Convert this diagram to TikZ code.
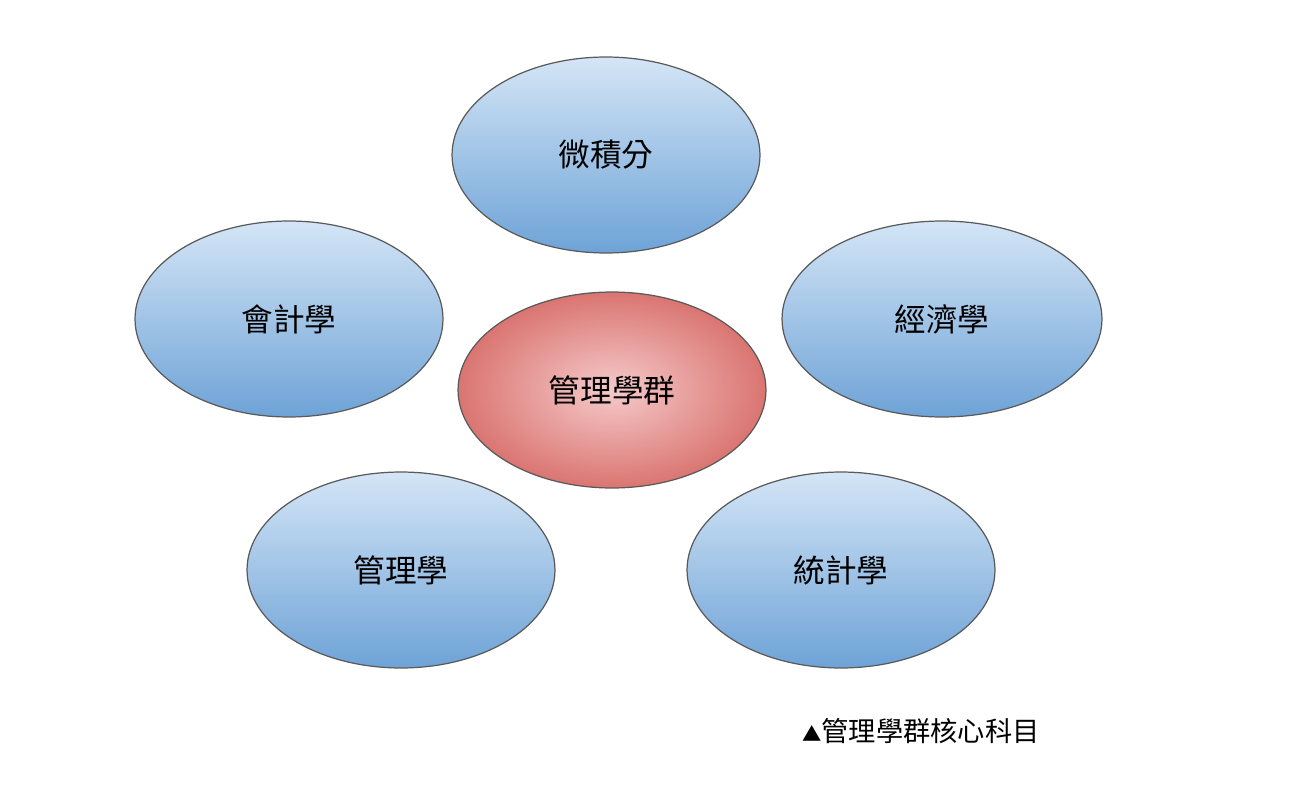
\documentclass[tikz,border=0pt]{standalone}
\usepackage{fontspec}
\newfontfamily\cjk{Noto Sans CJK TC}
\usetikzlibrary{shapes.geometric}
\definecolor{skytop}{HTML}{D4E5F6}
\definecolor{skybot}{HTML}{6EA3D7}
\definecolor{rosein}{HTML}{F5CACA}
\definecolor{roseout}{HTML}{DA7571}
\definecolor{rimgray}{HTML}{5A5A5A}
\tikzset{
 blob/.style={ellipse, draw=rimgray, line width=0.7pt, minimum width=6.16cm, minimum height=3.92cm, inner sep=0pt, font=\cjk\fontsize{18}{20}\selectfont},
 subject/.style={blob, top color=skytop, bottom color=skybot},
 core/.style={blob, shading=radial, inner color=rosein, outer color=roseout}
}

\begin{document}
\begin{tikzpicture}[x=0.02cm, y=-0.02cm]
\useasboundingbox (0,0) rectangle (1311,787);
\node[subject] (calc) at (606,155) {微積分};
\node[subject] (acct) at (289,319) {會計學};
\node[subject, minimum width=6.4cm] (econ) at (942,319) {經濟學};
\node[subject] (mgmt) at (401,570) {管理學};
\node[subject] (stat) at (841,570) {統計學};
\node[core] (group) at (612,390) {管理學群};
\node[anchor=west, inner sep=0, font=\cjk\fontsize{15.5}{17}\selectfont] (caption) at (802,731) {{\fontsize{11}{12}\selectfont ▲}管理學群核心科目};
\end{tikzpicture}
\end{document}
